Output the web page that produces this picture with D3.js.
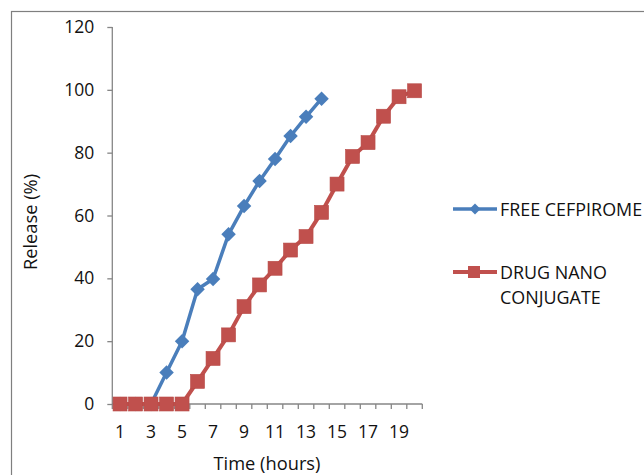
<!DOCTYPE html>
<html>
<head>
<meta charset="utf-8">
<script src="https://cdn.jsdelivr.net/npm/d3@7/dist/d3.min.js"></script>
<style>
  body { margin: 0; background: #fff; }
  text { font-family: "Open Sans", "Liberation Sans", sans-serif; fill: #111; }
</style>
</head>
<body>
<div id="chart"></div>
<script>
var svgWidth = 644;
var svgHeight = 475;

// data
var hours = d3.range(1, 21);
var xTickLabels = [1, 3, 5, 7, 9, 11, 13, 15, 17, 19];
var yTicks = [0, 20, 40, 60, 80, 100, 120];
var freeHours = d3.range(1, 15);
var freeValues = [0, 0, 0, 10, 20, 36.5, 39.8, 54, 63, 71, 78, 85.3, 91.4, 97.2];
var nanoValues = [0, 0, 0, 0, 0, 7.2, 14.5, 22, 31, 37.9, 43.2, 49, 53.3, 61, 70, 78.8, 83.2, 91.6, 97.8, 99.7];
var blue = "#4a7ebb";
var red = "#c0504d";

var svg = d3.select("#chart").append("svg")
  .attr("width", svgWidth)
  .attr("height", svgHeight);

// pick a font size so a sample string gets the width seen in the picture
function fitSize(sample, targetWidth) {
  var t = svg.append("text").attr("font-size", "20px").text(sample);
  var w = t.node().getComputedTextLength();
  t.remove();
  return (20 * targetWidth / w).toFixed(2) + "px";
}
var tickSize = fitSize("120", 30);
var titleSize = fitSize("Time (hours)", 107);
var legendSize = fitSize("DRUG NANO", 107);

// outer frame
svg.append("rect")
  .attr("x", 11.5).attr("y", 11.5)
  .attr("width", 700).attr("height", 500)
  .attr("fill", "none")
  .attr("stroke", "#7f7f7f")
  .attr("stroke-width", 1.2);

// category axis: hour bands from the y axis to the end of the x axis
var scaleX = d3.scaleLinear().domain([0.5, 20.5]).range([112.3, 422.3]);
var scaleY = d3.scaleLinear().domain([0, 120]).range([404, 27]);

// y axis
var yAxis = svg.append("g")
  .attr("transform", `translate(${scaleX(0.5)},0)`)
  .call(d3.axisLeft(scaleY).tickValues(yTicks).tickSize(5).tickPadding(13));
yAxis.select(".domain").attr("stroke", "#868686").attr("stroke-width", 1.3)
  .attr("d", `M0,${scaleY(120)}V${scaleY(0)}`);
yAxis.selectAll(".tick line").attr("stroke", "#868686").attr("stroke-width", 1.3);
yAxis.selectAll(".tick text").attr("font-size", tickSize).attr("fill", "#111")
  .style("font-family", "'Open Sans', sans-serif");

// x axis: ticks between categories, labels on odd hours
var xAxis = svg.append("g")
  .attr("transform", `translate(0,${scaleY(0)})`);
xAxis.append("line")
  .attr("x1", scaleX(0.5)).attr("x2", scaleX(20.5))
  .attr("stroke", "#868686").attr("stroke-width", 1.3);
xAxis.selectAll("line.tk")
  .data(d3.range(0.5, 21, 1))
  .enter().append("line")
  .attr("class", "tk")
  .attr("x1", d => scaleX(d)).attr("x2", d => scaleX(d))
  .attr("y1", 0).attr("y2", 5)
  .attr("stroke", "#868686").attr("stroke-width", 1.3);
xAxis.selectAll("text")
  .data(xTickLabels)
  .enter().append("text")
  .attr("x", d => scaleX(d))
  .attr("y", 34)
  .attr("text-anchor", "middle")
  .attr("font-size", tickSize)
  .text(d => d);

// axis titles
svg.append("text")
  .attr("transform", "translate(37,222) rotate(-90)")
  .attr("text-anchor", "middle")
  .attr("font-size", titleSize)
  .text("Release (%)");
svg.append("text")
  .attr("x", 267).attr("y", 469.5)
  .attr("text-anchor", "middle")
  .attr("font-size", titleSize)
  .text("Time (hours)");

var line = d3.line().x(d => scaleX(d[0])).y(d => scaleY(d[1]));
var freeData = freeHours.map((h, i) => [h, freeValues[i]]);
var nanoData = hours.map((h, i) => [h, nanoValues[i]]);

var diamond = d3.symbol().type(d3.symbolSquare).size(105);

// free cefpirome
svg.append("path").datum(freeData)
  .attr("d", line).attr("fill", "none")
  .attr("stroke", blue).attr("stroke-width", 3.5).attr("stroke-linejoin", "round");
svg.selectAll("path.dia")
  .data(freeData)
  .enter().append("path")
  .attr("class", "dia")
  .attr("d", diamond)
  .attr("transform", d => `translate(${scaleX(d[0])},${scaleY(d[1])}) rotate(45)`)
  .attr("fill", blue);

// drug nano conjugate
svg.append("path").datum(nanoData)
  .attr("d", line).attr("fill", "none")
  .attr("stroke", red).attr("stroke-width", 4).attr("stroke-linejoin", "round");
svg.selectAll("rect.sq")
  .data(nanoData)
  .enter().append("rect")
  .attr("class", "sq")
  .attr("x", d => scaleX(d[0]) - 7)
  .attr("y", d => scaleY(d[1]) - 7)
  .attr("width", 14).attr("height", 14)
  .attr("fill", red)
  .attr("stroke", "#b84a47").attr("stroke-width", 0.6);

// legend
var leg1 = svg.append("g").attr("transform", "translate(453,209)");
leg1.append("line").attr("x1", 0).attr("x2", 44)
  .attr("stroke", blue).attr("stroke-width", 3.5);
leg1.append("path")
  .attr("d", d3.symbol().type(d3.symbolSquare).size(60))
  .attr("transform", "translate(22,0) rotate(45)")
  .attr("fill", blue);
leg1.append("text").attr("x", 47).attr("y", 6.5)
  .attr("font-size", legendSize).text("FREE CEFPIROME");

var leg2 = svg.append("g").attr("transform", "translate(453,272)");
leg2.append("line").attr("x1", 0).attr("x2", 44)
  .attr("stroke", red).attr("stroke-width", 4);
leg2.append("rect").attr("x", 15).attr("y", -6)
  .attr("width", 12).attr("height", 12).attr("fill", red);
leg2.append("text").attr("x", 47).attr("y", 6.5)
  .attr("font-size", legendSize).text("DRUG NANO");
leg2.append("text").attr("x", 47).attr("y", 32)
  .attr("font-size", legendSize).text("CONJUGATE");
</script>
</body>
</html>
